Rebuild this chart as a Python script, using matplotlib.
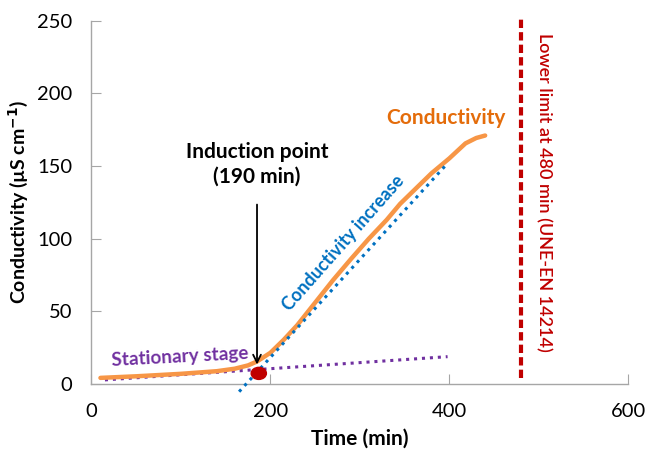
import matplotlib.pyplot as plt
from matplotlib.patches import Ellipse

# conductivity curve
time_min = [10, 50, 100, 140, 160, 175, 185, 200, 215, 230, 250, 270, 290,
            310, 330, 345, 365, 380, 400, 418, 430, 440]
conductivity = [4.2, 5.3, 7.0, 8.8, 10.5, 12.8, 15.5, 21.5, 30.5, 40.5, 56,
                71.5, 86, 100, 113, 124, 136, 145, 155.3, 165.6, 169.3, 171]

# fitted trend lines
stationary_t = [15, 398]
stationary_v = [2.8, 18.8]
increase_t = [165, 398]
increase_v = [-5.3, 151.9]

induction_t = 187
induction_v = 7.3
limit_t = 480

plt.rcParams['font.family'] = ['Lato', 'DejaVu Sans']

fig = plt.figure(figsize=(6.48, 4.51), dpi=100)
ax = fig.add_axes([0.1412, 0.1486, 0.8284, 0.8054])

ax.plot(time_min, conductivity, color='#F79646', lw=3.2, solid_capstyle='round',
        solid_joinstyle='round', zorder=3)
ax.plot(stationary_t, stationary_v, color='#7030A0', lw=2.2, ls=(0, (1, 1.6)), zorder=2)
ax.plot(increase_t, increase_v, color='#0070C0', lw=2.2, ls=(0, (1, 1.6)), zorder=4, clip_on=False)
ax.plot([limit_t, limit_t], [4, 251], color='#C00000', lw=3, ls=(0, (2.0, 1.0)), clip_on=False)

ax.add_patch(Ellipse((induction_t, induction_v), 17, 8.3, color='#C00000', zorder=5, clip_on=False))
ax.annotate('', xy=(185, 11.5), xytext=(185, 125.4),
            arrowprops=dict(arrowstyle='->', color='black', lw=1.3, mutation_scale=14), zorder=6)

ax.text(185, 160, 'Induction point', ha='center', va='center', fontsize=15, fontweight='bold')
ax.text(185, 142.5, '(190 min)', ha='center', va='center', fontsize=15, fontweight='bold')
ax.text(99, 18.8, 'Stationary stage', ha='center', va='center', fontsize=13.6,
        fontweight='bold', color='#7030A0', rotation=3)
ax.text(282, 97, 'Conductivity increase', ha='center', va='center', fontsize=13,
        fontweight='bold', color='#0070C0', rotation=48.5, rotation_mode='anchor')
ax.text(396, 183, 'Conductivity', ha='center', va='center', fontsize=15,
        fontweight='bold', color='#E46C0A')
ax.text(505, 132, 'Lower limit at 480 min (UNE-EN 14214)', ha='center', va='center',
        fontsize=13, fontweight='semibold', color='#C00000', rotation=-90)

ax.set_xlim(0, 600)
ax.set_ylim(0, 250)
ax.set_xticks([0, 200, 400, 600])
ax.set_yticks([0, 50, 100, 150, 200, 250])
for s in ['top', 'right']:
    ax.spines[s].set_visible(False)
for s in ['left', 'bottom']:
    ax.spines[s].set_color('#A6A6A6')
    ax.spines[s].set_linewidth(1)
ax.tick_params(direction='in', length=7, color='#A6A6A6', labelsize=14.5, pad=14)
ax.set_xlabel('Time (min)', fontsize=15, fontweight='bold', labelpad=6)
ax.set_ylabel('Conductivity (µS cm$^{\\mathbf{-1}}$)', fontsize=14, fontweight='bold', labelpad=5)

fig.savefig('out.png', dpi=100)
